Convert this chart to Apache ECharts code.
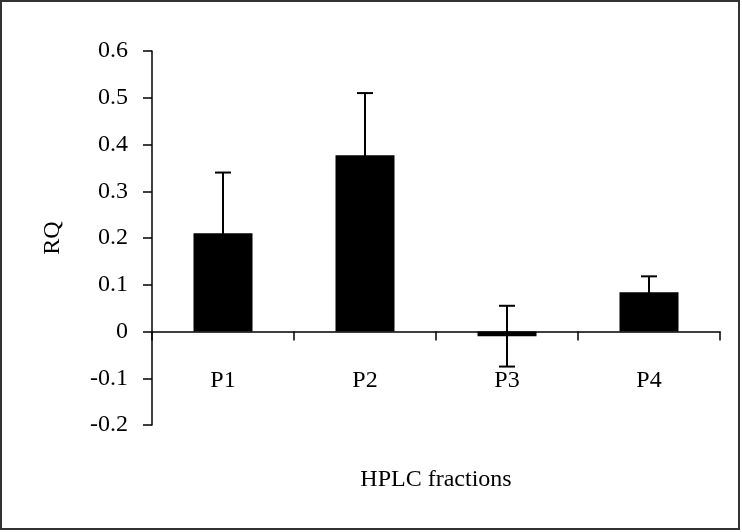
<!DOCTYPE html>
<html>
<head>
<meta charset="utf-8">
<script src="https://cdn.jsdelivr.net/npm/echarts@6/dist/echarts.min.js"></script>
<style>
html,body{margin:0;padding:0;background:#fff;}
#chart{width:742px;height:532px;}
</style>
</head>
<body>
<div id="chart"></div>
<script>
var categories = ['P1', 'P2', 'P3', 'P4'];
var values = [0.21, 0.377, -0.01, 0.084];
var errors = [0.13, 0.133, 0.065, 0.034];
var yTicks = {min: -0.2, max: 0.6, interval: 0.1};

var FONT = 'Liberation Serif';
var FS = 24;
var chart = echarts.init(document.getElementById('chart'));

var errData = values.map(function (v, i) { return [i, v - errors[i], v + errors[i]]; });

chart.setOption({
  animation: false,
  grid: {left: 152, right: 22, top: 51, bottom: 107, containLabel: false, outerBoundsMode: 'none'},
  graphic: [{
    type: 'rect',
    shape: {x: 1, y: 1, width: 738, height: 528},
    style: {fill: 'none', stroke: '#333', lineWidth: 2},
    silent: true
  }],
  xAxis: {
    type: 'category',
    data: categories,
    axisLine: {onZero: true, lineStyle: {color: '#000', width: 1.5}},
    axisTick: {show: true, inside: false, length: 9, lineStyle: {color: '#000', width: 1.5}},
    axisLabel: {margin: -56, fontFamily: FONT, fontSize: FS, color: '#000'},
    name: 'HPLC fractions',
    nameLocation: 'middle',
    nameGap: 43,
    nameTextStyle: {fontFamily: FONT, fontSize: FS, color: '#000'},
    splitLine: {show: false}
  },
  yAxis: {
    type: 'value',
    min: yTicks.min,
    max: yTicks.max,
    interval: yTicks.interval,
    axisLine: {show: true, lineStyle: {color: '#000', width: 1.5}},
    axisTick: {show: true, inside: false, length: 9, lineStyle: {color: '#000', width: 1.5}},
    axisLabel: {margin: 24, fontFamily: FONT, fontSize: FS, color: '#000',
      formatter: function (v) { return String(Math.round(v * 10) / 10); }},
    splitLine: {show: false},
    name: 'RQ',
    nameLocation: 'middle',
    nameGap: 87,
    nameRotate: 90,
    nameTextStyle: {fontFamily: FONT, fontSize: FS, color: '#000'}
  },
  series: [
    {
      type: 'custom',
      z: 2,
      data: errData,
      renderItem: function (params, api) {
        var x = api.value(0);
        var lo = api.coord([x, api.value(1)]);
        var hi = api.coord([x, api.value(2)]);
        var hw = 8;
        var st = {stroke: '#000', lineWidth: 2};
        return {
          type: 'group',
          children: [
            {type: 'line', shape: {x1: lo[0], y1: lo[1], x2: hi[0], y2: hi[1]}, style: st},
            {type: 'line', shape: {x1: hi[0] - hw, y1: hi[1], x2: hi[0] + hw, y2: hi[1]}, style: st},
            {type: 'line', shape: {x1: lo[0] - hw, y1: lo[1], x2: lo[0] + hw, y2: lo[1]}, style: st}
          ]
        };
      }
    },
    {
      type: 'bar',
      z: 3,
      data: values,
      barWidth: 59,
      itemStyle: {color: '#000'}
    }
  ]
});
</script>
</body>
</html>
